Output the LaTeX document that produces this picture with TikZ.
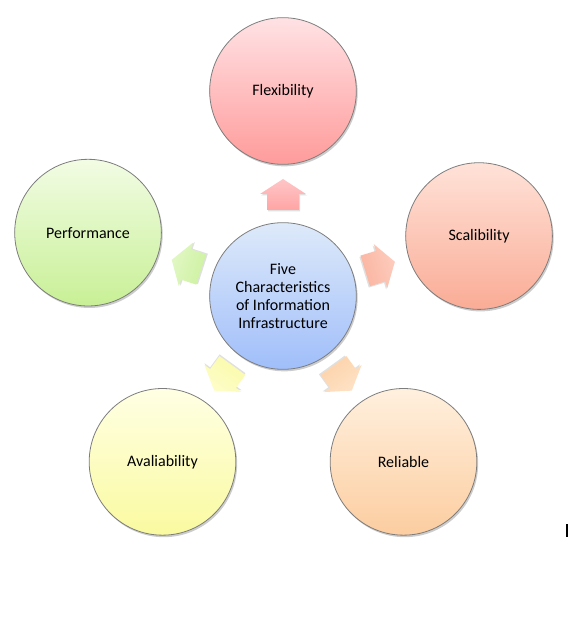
\documentclass[tikz,border=0pt]{standalone}
\usepackage{fontspec}
\setmainfont{Carlito}
\usetikzlibrary{shadows,calc}
\definecolor{flexT}{RGB}{255,226,228}\definecolor{flexB}{RGB}{255,155,155}
\definecolor{scalT}{RGB}{255,226,216}\definecolor{scalB}{RGB}{250,172,150}
\definecolor{reliT}{RGB}{255,240,222}\definecolor{reliB}{RGB}{252,205,160}
\definecolor{availT}{RGB}{255,255,228}\definecolor{availB}{RGB}{250,250,160}
\definecolor{perfT}{RGB}{242,252,228}\definecolor{perfB}{RGB}{200,240,150}
\definecolor{cenT}{RGB}{222,234,250}\definecolor{cenB}{RGB}{160,190,250}
\definecolor{edge}{RGB}{125,125,125}
\tikzset{
  bubble/.style={circle, minimum size=110pt, inner sep=0pt, draw=edge, line width=0.6pt,
    font=\fontsize{12}{13.5}\selectfont, align=center, shading=axis,
    drop shadow={shadow xshift=1pt, shadow yshift=-1.5pt, opacity=0.2, fill=black}},
  blockarrow/.style={draw=none, shading=axis}
}
\newcommand{\outarrow}[3]{%
  \begin{scope}[shift={($(cen.center)+(#1:101)$)}, rotate=#1-90]
    \fill[black, opacity=0.12, shift={(1,-1.5)}] (0,16) -- (23,1) -- (16,1) -- (16,-15) -- (-16,-15) -- (-16,1) -- (-23,1) -- cycle;
    \path[blockarrow, top color=#2, bottom color=#3, shading angle=#1-90]
      (0,16) -- (23,1) -- (16,1) -- (16,-15) -- (-16,-15) -- (-16,1) -- (-23,1) -- cycle;
  \end{scope}}
\begin{document}
\begin{tikzpicture}[x=0.75pt, y=0.75pt]
\useasboundingbox (0,0) rectangle (574,632);
\node[bubble, top color=cenT, bottom color=cenB] (cen) at (283,336)
  {Five\\Characteristics\\of Information\\Infrastructure};
\node[bubble, top color=flexT, bottom color=flexB] (flex) at ($(cen.center)+(90:205)$) {Flexibility};
\node[bubble, top color=scalT, bottom color=scalB] (scal) at ($(cen.center)+(17:205)$) {Scalibility};
\node[bubble, top color=reliT, bottom color=reliB] (reli) at ($(cen.center)+(-54:205)$) {Reliable};
\node[bubble, top color=availT, bottom color=availB] (avail) at ($(cen.center)+(-126:205)$) {Avaliability};
\node[bubble, top color=perfT, bottom color=perfB] (perf) at ($(cen.center)+(162:205)$) {Performance};
\outarrow{90}{flexT!60!flexB}{flexB!90!white}
\outarrow{17}{scalT!60!scalB}{scalB!90!white}
\outarrow{-54}{reliT!60!reliB}{reliB!90!white}
\outarrow{-126}{availT!60!availB}{availB!90!white}
\outarrow{162}{perfT!60!perfB}{perfB!90!white}
\fill[black] (566,95) rectangle (568,108);
\end{tikzpicture}
\end{document}
